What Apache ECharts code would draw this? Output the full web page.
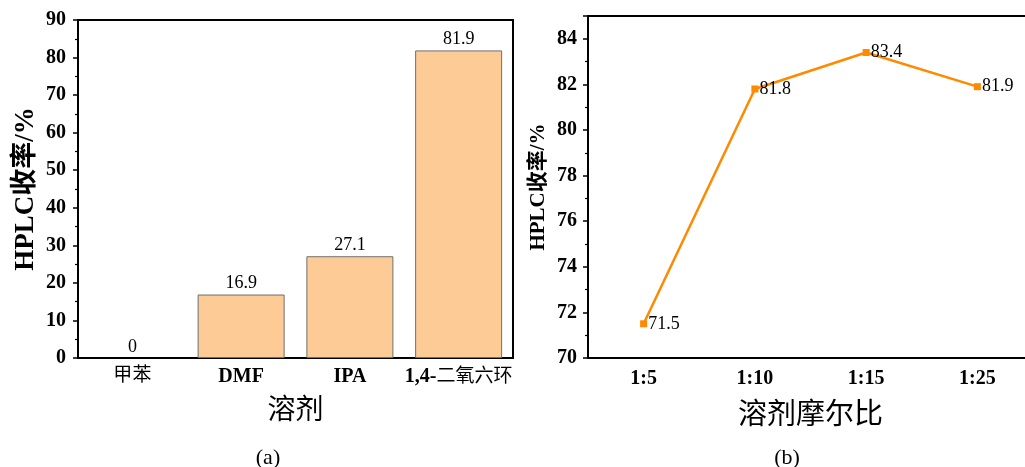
<!DOCTYPE html>
<html>
<head>
<meta charset="utf-8">
<script src="https://cdn.jsdelivr.net/npm/echarts@6/dist/echarts.min.js"></script>
<style>
  html, body { margin: 0; padding: 0; background: #fff; overflow: hidden; }
  #chart { width: 1040px; height: 467px; }
</style>
</head>
<body>
<div id="chart"></div>
<script>
// (a) yield by solvent
const solvents = ['甲苯', 'DMF', 'IPA', '1,4-二氧六环'];
const solventYield = [0, 16.9, 27.1, 81.9];
const solventTicks = { min: 0, max: 90, interval: 10 };

// (b) yield by solvent molar ratio
const ratios = ['1:5', '1:10', '1:15', '1:25'];
const ratioYield = [71.5, 81.8, 83.4, 81.9];
const ratioTicks = { min: 70, max: 85, interval: 2 };

const FONT = "'Liberation Serif', 'Noto Sans CJK SC', serif";
const BLACK = '#000';

function labelStyle(size, bold) {
  return { color: BLACK, fontFamily: FONT, fontSize: size, fontWeight: bold ? 'bold' : 'normal' };
}

const chart = echarts.init(document.getElementById('chart'), null, { renderer: 'canvas' });

// bold rich text for Latin parts of category labels, CJK kept regular
function solventLabel(v) {
  if (v === 'DMF' || v === 'IPA') return '{b|' + v + '}';
  if (v.indexOf('1,4-') === 0) return '{b|1,4-}{r|' + v.slice(4) + '}';
  return '{r|' + v + '}';
}

// a zero-height bar should leave no outline on the axis
const solventBars = solventYield.map(v => v === 0 ? { value: v, itemStyle: { borderWidth: 0 } } : v);

const option = {
  animation: false,
  backgroundColor: '#fff',
  title: [
    { text: '(a)', left: 263, top: 442, textAlign: 'center', textStyle: labelStyle(22, false) },
    { text: '(b)', left: 782, top: 442, textAlign: 'center', textStyle: labelStyle(22, false) }
  ],
  grid: [
    { left: 78, top: 20, width: 435, height: 338, show: true, borderColor: BLACK, borderWidth: 2, backgroundColor: 'transparent' },
    { left: 588, top: 16, width: 445, height: 342, show: true, borderColor: BLACK, borderWidth: 2, backgroundColor: 'transparent' }
  ],
  xAxis: [
    {
      gridIndex: 0, type: 'category', data: solvents,
      name: '溶剂', nameLocation: 'middle', nameGap: 40,
      nameTextStyle: labelStyle(28, false),
      axisLine: { lineStyle: { color: BLACK, width: 2 } },
      axisTick: { alignWithLabel: true, length: 5, lineStyle: { color: BLACK, width: 1.5 } },
      axisLabel: {
        interval: 0, margin: 9, formatter: solventLabel,
        rich: { b: labelStyle(20, true), r: labelStyle(19, false) }
      },
      splitLine: { show: false }
    },
    {
      // band-edge minor ticks
      gridIndex: 0, type: 'category', data: solvents, position: 'bottom',
      axisLine: { show: false }, axisLabel: { show: false },
      axisTick: { length: 3, lineStyle: { color: BLACK, width: 1.2 } },
      splitLine: { show: false }
    },
    {
      gridIndex: 1, type: 'category', data: ratios,
      name: '溶剂摩尔比', nameLocation: 'middle', nameGap: 44,
      nameTextStyle: labelStyle(29, false),
      axisLine: { lineStyle: { color: BLACK, width: 2 } },
      axisTick: { alignWithLabel: true, length: 5, lineStyle: { color: BLACK, width: 1.5 } },
      axisLabel: Object.assign({ interval: 0, margin: 11 }, labelStyle(20, true)),
      splitLine: { show: false }
    },
    {
      gridIndex: 1, type: 'category', data: ratios, position: 'bottom',
      axisLine: { show: false }, axisLabel: { show: false },
      axisTick: { length: 3, lineStyle: { color: BLACK, width: 1.2 } },
      splitLine: { show: false }
    }
  ],
  yAxis: [
    {
      gridIndex: 0, type: 'value',
      min: solventTicks.min, max: solventTicks.max, interval: solventTicks.interval,
      name: 'HPLC收率/%', nameLocation: 'middle', nameGap: 38, nameRotate: 90,
      nameTextStyle: labelStyle(27, true),
      axisLine: { show: true, lineStyle: { color: BLACK, width: 2 } },
      axisTick: { show: true, length: 5, lineStyle: { color: BLACK, width: 1.5 } },
      minorTick: { show: true, splitNumber: 2, length: 3, lineStyle: { color: BLACK, width: 1.2 } },
      axisLabel: Object.assign({ margin: 12 }, labelStyle(20, true)),
      splitLine: { show: false }
    },
    {
      gridIndex: 1, type: 'value',
      min: ratioTicks.min, max: ratioTicks.max, interval: ratioTicks.interval,
      name: 'HPLC收率/%', nameLocation: 'middle', nameGap: 39, nameRotate: 90,
      nameTextStyle: labelStyle(21, true),
      axisLine: { show: true, lineStyle: { color: BLACK, width: 2 } },
      axisTick: { show: true, length: 5, lineStyle: { color: BLACK, width: 1.5 } },
      minorTick: { show: true, splitNumber: 2, length: 3, lineStyle: { color: BLACK, width: 1.2 } },
      axisLabel: Object.assign({ margin: 11, showMaxLabel: false }, labelStyle(20, true)),
      splitLine: { show: false }
    }
  ],
  series: [
    {
      type: 'bar', xAxisIndex: 0, yAxisIndex: 0, data: solventBars,
      barCategoryGap: '20%',
      itemStyle: { color: '#FDCC96', borderColor: '#6f6f6f', borderWidth: 1 },
      label: Object.assign({ show: true, position: 'top', distance: 2 }, labelStyle(18, false))
    },
    {
      type: 'line', xAxisIndex: 2, yAxisIndex: 1, data: ratioYield,
      symbol: 'rect', symbolSize: 7, showAllSymbol: true,
      lineStyle: { color: '#FF8A00', width: 2.5 },
      itemStyle: { color: '#FF8A00' },
      label: Object.assign({ show: true, position: 'right', distance: 1 }, labelStyle(18, false))
    }
  ]
};

chart.setOption(option);
</script>
</body>
</html>
